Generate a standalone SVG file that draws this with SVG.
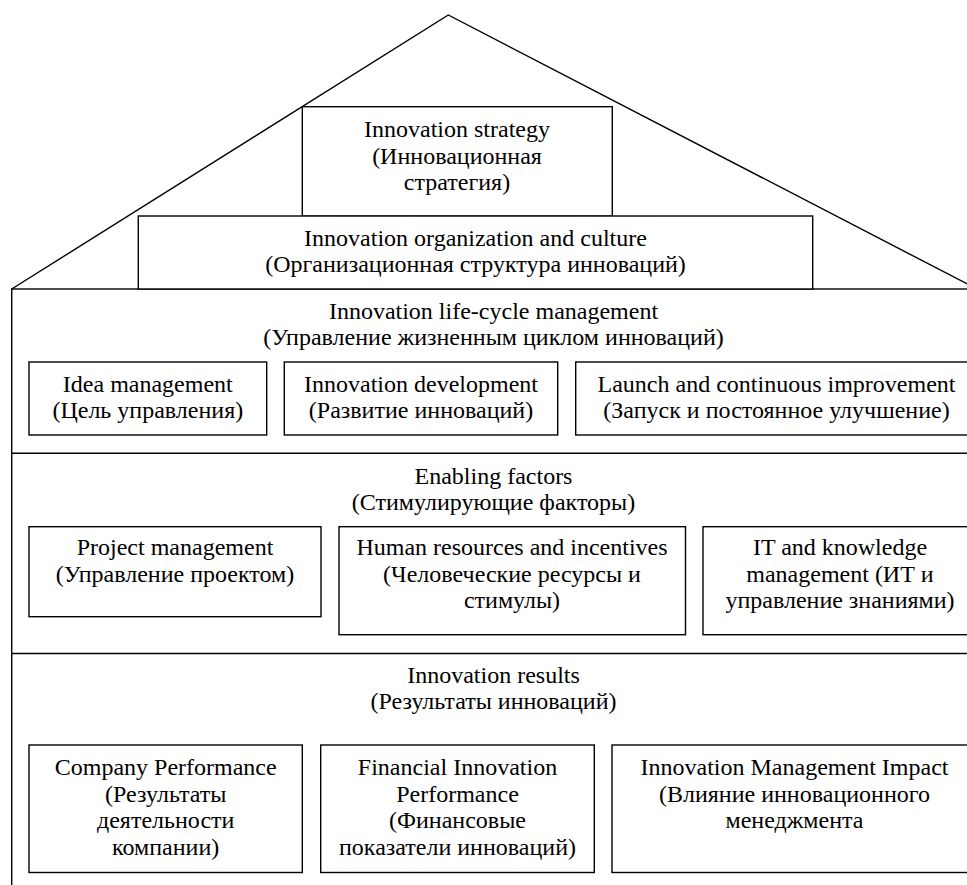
<svg xmlns="http://www.w3.org/2000/svg" width="967" height="885" viewBox="0 0 967 885" font-family="Liberation Serif, Times New Roman, serif">
<style>
.b{fill:#fff;stroke:#000;stroke-width:1.4}
.l{fill:none;stroke:#000;stroke-width:1.4}
text{font-family:'Liberation Serif','Times New Roman',serif;font-size:24px;fill:#000;text-anchor:middle}
</style>
<rect width="967" height="885" fill="#fff"/>
<g id="roof">
<polyline class="l" points="11.7,289 448.3,15 977,289"/>
</g>
<g id="body">
<rect class="b" x="11.7" y="289" width="965.3" height="610"/>
<line class="l" x1="11.7" y1="453.3" x2="977" y2="453.3"/>
<line class="l" x1="11.7" y1="653.5" x2="977" y2="653.5"/>
</g>
<g id="strategy">
<rect class="b" x="302.3" y="106.7" width="310" height="109.5"/>
<text x="457" y="137">Innovation strategy</text>
<text x="457" y="164">(Инновационная</text>
<text x="457" y="190">стратегия)</text>
</g>
<g id="organization">
<rect class="b" x="138.3" y="216" width="674.4" height="73"/>
<text x="475.5" y="246">Innovation organization and culture</text>
<text x="475.5" y="272">(Организационная структура инноваций)</text>
</g>
<g id="lifecycle">
<text x="493.5" y="319">Innovation life-cycle management</text>
<text x="493.5" y="345">(Управление жизненным циклом инноваций)</text>
</g>
<g id="idea">
<rect class="b" x="29" y="362" width="237.7" height="73"/>
<text x="147.8" y="392">Idea management</text>
<text x="147.8" y="418">(Цель управления)</text>
</g>
<g id="development">
<rect class="b" x="284.3" y="362" width="273.4" height="73"/>
<text x="421" y="392">Innovation development</text>
<text x="421" y="418">(Развитие инноваций)</text>
</g>
<g id="launch">
<rect class="b" x="575.7" y="362" width="401.3" height="73"/>
<text x="776.5" y="392">Launch and continuous improvement</text>
<text x="776.5" y="418">(Запуск и постоянное улучшение)</text>
</g>
<g id="enabling">
<text x="493.5" y="484">Enabling factors</text>
<text x="493.5" y="510">(Стимулирующие факторы)</text>
</g>
<g id="project">
<rect class="b" x="29" y="526.7" width="292" height="90"/>
<text x="175" y="555">Project management</text>
<text x="175" y="582">(Управление проектом)</text>
</g>
<g id="human">
<rect class="b" x="339" y="526.7" width="346.5" height="108"/>
<text x="512" y="555">Human resources and incentives</text>
<text x="512" y="582">(Человеческие ресурсы и</text>
<text x="512" y="608">стимулы)</text>
</g>
<g id="it">
<rect class="b" x="703" y="526.7" width="274" height="108"/>
<text x="840" y="555">IT and knowledge</text>
<text x="840" y="582">management (ИТ и</text>
<text x="840" y="608">управление знаниями)</text>
</g>
<g id="results">
<text x="493.5" y="683">Innovation results</text>
<text x="493.5" y="709">(Результаты инноваций)</text>
</g>
<g id="company">
<rect class="b" x="29" y="745" width="273.3" height="127.5"/>
<text x="165.7" y="775">Company Performance</text>
<text x="165.7" y="802">(Результаты</text>
<text x="165.7" y="828">деятельности</text>
<text x="165.7" y="855">компании)</text>
</g>
<g id="financial">
<rect class="b" x="320.7" y="745" width="273.6" height="127.5"/>
<text x="457.5" y="775">Financial Innovation</text>
<text x="457.5" y="802">Performance</text>
<text x="457.5" y="828">(Финансовые</text>
<text x="457.5" y="855">показатели инноваций)</text>
</g>
<g id="impact">
<rect class="b" x="612" y="745" width="365" height="127.5"/>
<text x="794.5" y="775">Innovation Management Impact</text>
<text x="794.5" y="802">(Влияние инновационного</text>
<text x="794.5" y="828">менеджмента</text>
</g>
</svg>
